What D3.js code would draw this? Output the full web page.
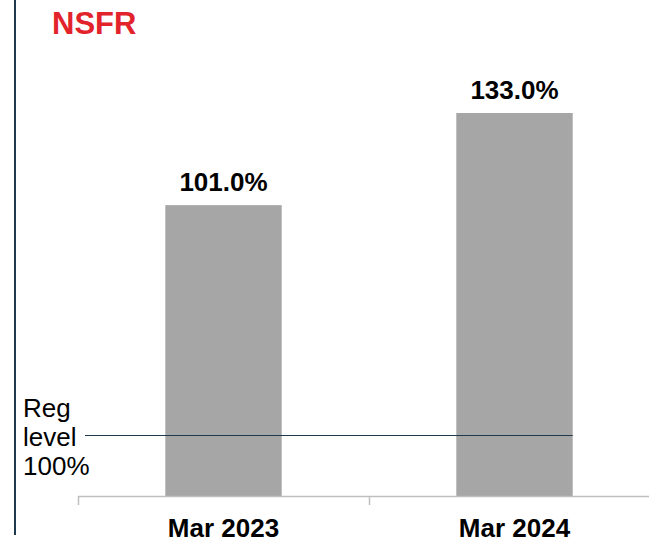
<!DOCTYPE html>
<html lang="en">
<head>
<meta charset="UTF-8"/>
<title>NSFR</title>
<script src="https://d3js.org/d3.v7.min.js"></script>
<style>
    body { margin: 0; background: #fff; }
    text { font-family: "Liberation Sans", Arial, sans-serif; }
</style>
</head>
<body>
<script>
    //chart data
    var categories = ["Mar 2023", "Mar 2024"];
    var values = [101.0, 133.0];
    var valueLabels = ["101.0%", "133.0%"];
    var regLabel = ["Reg", "level", "100%"];

    var w = 649;
    var h = 540;

    var svg = d3.select("body")
        .append("svg")
        .attr("width", w)
        .attr("height", h);

    //x scale: each category gets a band, bar sits in the middle 40%
    var xScale = d3.scaleBand()
        .domain(categories)
        .range([78, 660])
        .padding(0);

    var barW = xScale.bandwidth() * 0.4;

    var yScale = d3.scaleLinear()
        .domain([0, 133])
        .range([496, 113]);

    //left border line
    svg.append("line")
        .attr("x1", 15).attr("x2", 15)
        .attr("y1", 0).attr("y2", 535)
        .attr("stroke", "#1f3a4d")
        .attr("stroke-width", 2);

    //title
    svg.append("text")
        .attr("x", 52)
        .attr("y", 34)
        .attr("font-size", "31px")
        .attr("font-weight", "bold")
        .attr("fill", "#e3232b")
        .text("NSFR");

    //bars
    svg.selectAll("rect.bar")
        .data(values)
        .enter()
        .append("rect")
        .attr("class", "bar")
        .attr("x", function (d, i) { return xScale(categories[i]) + (xScale.bandwidth() - barW) / 2; })
        .attr("y", function (d) { return yScale(d); })
        .attr("width", barW)
        .attr("height", function (d) { return yScale(0) - yScale(d); })
        .attr("fill", "#a6a6a6");

    //value labels
    svg.selectAll("text.val")
        .data(values)
        .enter()
        .append("text")
        .attr("class", "val")
        .attr("x", function (d, i) { return xScale(categories[i]) + xScale.bandwidth() / 2; })
        .attr("y", function (d) { return yScale(d) - 14; })
        .attr("text-anchor", "middle")
        .attr("font-size", "26px")
        .attr("font-weight", "bold")
        .attr("fill", "#000")
        .text(function (d, i) { return valueLabels[i]; });

    //x axis line and ticks at band edges
    svg.append("line")
        .attr("x1", xScale.range()[0]).attr("x2", w)
        .attr("y1", yScale(0) + 0.5).attr("y2", yScale(0) + 0.5)
        .attr("stroke", "#bfbfbf")
        .attr("stroke-width", 1.5);

    svg.selectAll("line.tick")
        .data(categories)
        .enter()
        .append("line")
        .attr("class", "tick")
        .attr("x1", function (d) { return xScale(d) + 0.5; })
        .attr("x2", function (d) { return xScale(d) + 0.5; })
        .attr("y1", yScale(0))
        .attr("y2", yScale(0) + 9)
        .attr("stroke", "#bfbfbf")
        .attr("stroke-width", 1.5);

    //category labels
    svg.selectAll("text.cat")
        .data(categories)
        .enter()
        .append("text")
        .attr("class", "cat")
        .attr("x", function (d) { return xScale(d) + xScale.bandwidth() / 2; })
        .attr("y", 537)
        .attr("text-anchor", "middle")
        .attr("font-size", "26px")
        .attr("font-weight", "bold")
        .attr("fill", "#000")
        .text(function (d) { return d; });

    //regulatory level annotation
    var regY = 435;
    svg.append("line")
        .attr("x1", 85)
        .attr("x2", xScale(categories[1]) + (xScale.bandwidth() + barW) / 2)
        .attr("y1", regY + 0.5).attr("y2", regY + 0.5)
        .attr("stroke", "#1f3a4d")
        .attr("stroke-width", 1);

    svg.selectAll("text.reg")
        .data(regLabel)
        .enter()
        .append("text")
        .attr("class", "reg")
        .attr("x", 23)
        .attr("y", function (d, i) { return 417 + i * 29; })
        .attr("font-size", "26px")
        .attr("fill", "#000")
        .text(function (d) { return d; });
</script>
</body>
</html>
